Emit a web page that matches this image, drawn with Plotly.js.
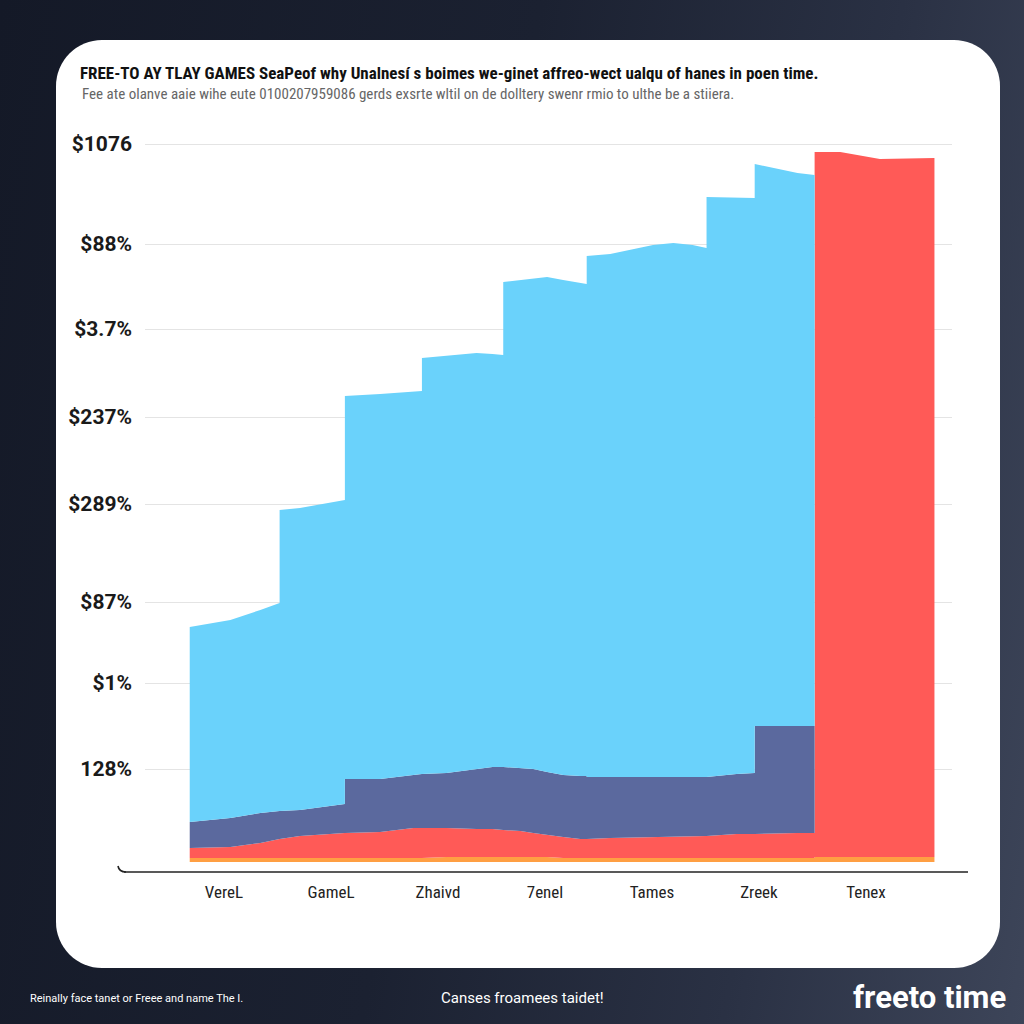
<!DOCTYPE html>
<html>
<head>
<meta charset="utf-8">
<script src="https://cdn.plot.ly/plotly-3.0.1.min.js"></script>
<style>
  html, body { margin: 0; padding: 0; }
  body { width: 1024px; height: 1024px; overflow: hidden; position: relative;
         background: linear-gradient(100deg, #141927 0%, #1b2131 45%, #2a3144 75%, #3d4559 100%); }
  #card { position: absolute; left: 56px; top: 40px; width: 944px; height: 928px;
          background: #ffffff; border-radius: 46px; }
  #chart { position: absolute; left: 0; top: 0; width: 1024px; height: 1024px; }
</style>
</head>
<body>
<div id="card"></div>
<div id="chart"></div>
<script>
// ---- data ----
const categories = ["VereL", "GameL", "Zhaivd", "7enel", "Tames", "Zreek", "Tenex"];
const categoryPos = [0, 1, 2, 3, 4, 5, 6];

// sample positions along the category axis (repeated values mark vertical steps)
const xPos = [-0.32, -0.04, 0.06, 0.34, 0.52, 0.52, 0.71, 1.13, 1.13, 1.46, 1.77, 1.85, 1.85,
              2.08, 2.36, 2.51, 2.61, 2.61, 2.77, 2.89, 3.02, 3.17, 3.33, 3.39, 3.39,
              3.61, 4.01, 4.20, 4.38, 4.51, 4.51, 4.79, 4.96, 4.96, 5.36, 5.52, 5.52,
              5.76, 6.13, 6.64];

// layer thicknesses, bottom to top
const orangeSeries = [0.4, 0.4, 0.4, 0.4, 0.4, 0.4, 0.4, 0.4, 0.4, 0.4, 0.4, 0.4, 0.4,
                      0.5, 0.5, 0.5, 0.5, 0.5, 0.5, 0.5, 0.5, 0.4, 0.4, 0.4, 0.4,
                      0.4, 0.4, 0.4, 0.4, 0.4, 0.4, 0.4, 0.4, 0.4, 0.4, 0.4, 0.5,
                      0.5, 0.5, 0.5];
const redSeries = [1.0, 1.1, 1.1, 1.5, 1.9, 1.9, 2.2, 2.5, 2.5, 2.6, 3.0, 3.0, 3.0,
                   2.9, 2.8, 2.8, 2.7, 2.7, 2.6, 2.4, 2.2, 2.1, 1.9, 1.9, 1.9,
                   2.0, 2.1, 2.1, 2.2, 2.2, 2.2, 2.4, 2.4, 2.4, 2.5, 2.5, 70.5,
                   70.5, 69.8, 69.9];
const slateSeries = [2.6, 2.8, 2.9, 3.0, 2.8, 2.8, 2.6, 2.9, 5.4, 5.3, 5.3, 5.4, 5.4,
                     5.5, 6.0, 6.2, 6.3, 6.3, 6.3, 6.4, 6.3, 6.2, 6.3, 6.3, 6.2,
                     6.1, 6.0, 6.0, 5.9, 5.9, 5.9, 6.0, 6.1, 10.8, 10.7, 10.7, 0,
                     0, 0, 0];
const blueSeries = [19.5, 19.7, 19.8, 20.3, 20.8, 30.1, 30.2, 30.4, 38.3, 38.5, 38.3, 38.3, 41.6,
                    41.7, 41.6, 41.3, 41.2, 48.5, 48.8, 49.1, 49.5, 49.5, 49.3, 49.2, 52.1,
                    52.3, 53.2, 53.4, 53.2, 52.9, 58.0, 57.6, 57.5, 56.2, 55.3, 55.1, 0,
                    0, 0, 0];

const yTickVals = [71.8, 61.8, 53.3, 44.5, 35.8, 26.0, 17.9, 9.3];
const yTickText = ["$1076", "$88%", "$3.7%", "$237%", "$289%", "$87%", "$1%", "128%"];

const titleText = "FREE-TO AY TLAY GAMES SeaPeof why Unalnesí s boimes we-ginet affreo-wect ualqu of hanes in poen time.";
const subtitleText = "Fee ate olanve aaie wihe eute 0100207959086 gerds exsrte wltil on de dolltery swenr rmio to ulthe be a stiiera.";
const footLeft = "Reinally face tanet or Freee and name The I.";
const footMid = "Canses froamees taidet!";
const footBrand = "freeto time";

// ---- build stacked traces ----
const layers = [
  {name: "base", vals: orangeSeries, color: "#FF9F43"},
  {name: "red", vals: redSeries, color: "#FF5A57"},
  {name: "slate", vals: slateSeries, color: "#5B699E"},
  {name: "blue", vals: blueSeries, color: "#6AD2FB"}
];
const running = xPos.map(() => 0);
const traces = layers.map((L, i) => {
  const y = L.vals.map((v, k) => (running[k] += v, +running[k].toFixed(2)));
  return {
    type: "scatter", mode: "lines", x: xPos, y: y, name: L.name,
    line: {width: 0, color: L.color}, fill: i === 0 ? "tozeroy" : "tonexty",
    fillcolor: L.color, hoverinfo: "skip", showlegend: false
  };
});

// pixel helpers for placing text / shapes in the paper frame
const M = {l: 145, r: 72, t: 130, b: 152};
const PW = 1024 - M.l - M.r, PH = 1024 - M.t - M.b;
const px = x => (x - M.l) / PW;
const py = y => (1024 - M.b - y) / PH;

const layout = {
  width: 1024, height: 1024,
  margin: M,
  paper_bgcolor: "rgba(0,0,0,0)", plot_bgcolor: "rgba(0,0,0,0)",
  font: {family: "Roboto, 'Liberation Sans', sans-serif", color: "#222"},
  title: {
    text: titleText, xref: "container", yref: "container",
    x: 80 / 1024, y: 1 - 73 / 1024, xanchor: "left", yanchor: "middle",
    font: {family: "'Liberation Sans Narrow', 'Roboto Condensed', 'DejaVu Sans Condensed', Roboto, sans-serif",
           size: 17, weight: 700, color: "#111"}
  },
  xaxis: {
    range: [-0.738, 6.804], tickvals: categoryPos, ticktext: categories,
    showgrid: false, zeroline: false, showline: false, ticks: "",
    ticklabelstandoff: 8,
    tickfont: {family: "'Liberation Sans Narrow', 'Roboto Condensed', Roboto, sans-serif", size: 17, color: "#222"}
  },
  yaxis: {
    range: [-1.0, 73.2], tickvals: yTickVals, ticktext: yTickText,
    showgrid: true, gridcolor: "#e4e4e4", gridwidth: 1, zeroline: false, showline: false, ticks: "",
    ticklabelstandoff: 12,
    tickfont: {family: "Roboto, sans-serif", size: 21, weight: 700, color: "#1a1a1a"}
  },
  shapes: [
    {type: "line", xref: "paper", yref: "paper", x0: px(124), x1: px(968), y0: py(872), y1: py(872),
     line: {color: "#222", width: 1.6}},
    {type: "path", xref: "paper", yref: "paper",
     path: "M " + px(118) + "," + py(866) + " Q " + px(119) + "," + py(872) + " " + px(126) + "," + py(872),
     line: {color: "#222", width: 1.6}}
  ],
  annotations: [
    {text: subtitleText, xref: "paper", yref: "paper", x: px(80), y: py(94), xanchor: "left", yanchor: "middle",
     showarrow: false, font: {family: "'Liberation Sans Narrow', 'Roboto Condensed', Roboto, sans-serif", size: 15, color: "#666"}},
    {text: footLeft, xref: "paper", yref: "paper", x: px(28), y: py(998), xanchor: "left", yanchor: "middle",
     showarrow: false, font: {family: "'Liberation Sans Narrow', Roboto, sans-serif", size: 11, color: "#ffffff"}},
    {text: footMid, xref: "paper", yref: "paper", x: px(522), y: py(998), xanchor: "center", yanchor: "middle",
     showarrow: false, font: {family: "'Liberation Sans Narrow', Roboto, sans-serif", size: 15, color: "#ffffff"}},
    {text: footBrand, xref: "paper", yref: "paper", x: px(1008), y: py(997), xanchor: "right", yanchor: "middle",
     showarrow: false, font: {family: "Roboto, sans-serif", size: 31, weight: 700, color: "#ffffff"}}
  ]
};

Plotly.newPlot("chart", traces, layout, {displayModeBar: false, staticPlot: true});
</script>
</body>
</html>
